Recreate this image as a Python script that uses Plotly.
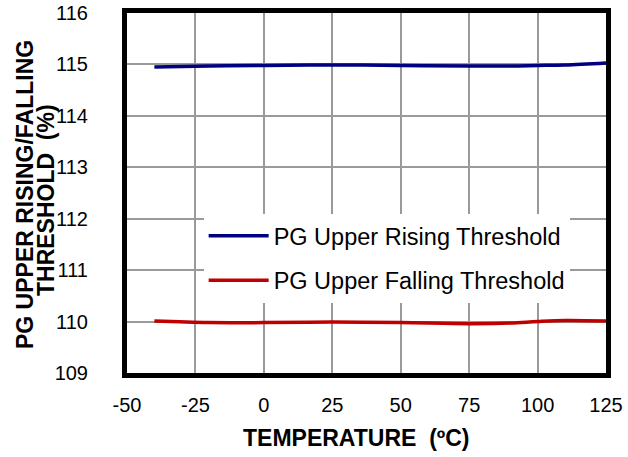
import plotly.graph_objects as go

temps = [-40, -20, 0, 25, 50, 75, 90, 100, 110, 125]
rising = [114.95, 114.97, 114.98, 114.99, 114.98, 114.97, 114.97, 114.98, 114.99, 115.03]
falling = [110.01, 109.98, 109.98, 109.99, 109.98, 109.96, 109.97, 110.00, 110.02, 110.01]

x_ticks = [-50, -25, 0, 25, 50, 75, 100, 125]
y_ticks = [109, 110, 111, 112, 113, 114, 115, 116]

x_title = "TEMPERATURE  (ºC)"
y_title_1 = "PG UPPER RISING/FALLING"
y_title_2 = "THRESHOLD  (%)"

FONT = "Arial, Liberation Sans, sans-serif"

fig = go.Figure()
fig.add_trace(go.Scatter(x=temps, y=rising, mode="lines", name="PG Upper Rising Threshold",
                         line=dict(color="#000080", width=3.5, shape="spline"), legendgroup="a"))
fig.add_trace(go.Scatter(x=temps, y=falling, mode="lines", name="PG Upper Falling Threshold",
                         line=dict(color="#C00000", width=3.5, shape="spline"), legendgroup="b"))

fig.update_layout(
    width=628, height=457,
    margin=dict(l=127, r=22, t=13, b=84),
    paper_bgcolor="white", plot_bgcolor="white",
    font=dict(family=FONT, size=20, color="black"),
    showlegend=True,
    legend=dict(x=0.16, y=0.442, xanchor="left", yanchor="top",
                bgcolor="white", borderwidth=0, itemwidth=60,
                font=dict(family=FONT, size=23.5, color="black"),
                tracegroupgap=11),
    xaxis=dict(range=[-50, 125], tickvals=x_ticks, ticktext=[str(v) for v in x_ticks],
               showgrid=True, gridcolor="#9A9A9A", gridwidth=1.5,
               showline=True, linecolor="black", linewidth=5, mirror=True,
               zeroline=False, ticks="", ticklabelstandoff=10, automargin=False,
               tickfont=dict(size=20)),
    yaxis=dict(range=[109, 116], tickvals=y_ticks, ticktext=[str(v) for v in y_ticks],
               showgrid=True, gridcolor="#9A9A9A", gridwidth=1.5,
               showline=True, linecolor="black", linewidth=5, mirror=True,
               zeroline=False, ticks="", ticklabelstandoff=30, automargin=False,
               tickfont=dict(size=20)),
    annotations=[
        dict(text="<b>" + x_title + "</b>", xref="paper", yref="paper",
             x=(355.5 - 127) / 479, y=-(437 - 372.5) / 359, xanchor="center", yanchor="middle",
             showarrow=False, font=dict(size=23)),
        dict(text="<b>" + y_title_1 + "</b>", xref="paper", yref="paper", textangle=-90,
             x=-(127 - 25) / 479, y=(372.5 - 195) / 359, xanchor="center", yanchor="middle",
             showarrow=False, font=dict(size=23)),
        dict(text="<b>" + y_title_2 + "</b>", xref="paper", yref="paper", textangle=-90,
             x=-(127 - 46) / 479, y=(372.5 - 200) / 359, xanchor="center", yanchor="middle",
             showarrow=False, font=dict(size=23)),
    ],
)

fig.write_html("out.html")
